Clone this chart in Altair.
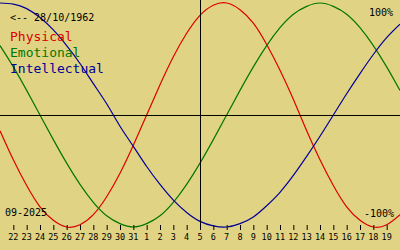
import altair as alt
import pandas as pd

# ---- data ----
day_labels = [22, 23, 24, 25, 26, 27, 28, 29, 30, 31,
              1, 2, 3, 4, 5, 6, 7, 8, 9, 10, 11, 12, 13, 14, 15, 16, 17, 18, 19]
tick_index = list(range(1, 30))
day_index = list(range(31))          # 21 Aug .. 20 Sep
physical = [-0.14, -0.40, -0.63, -0.82, -0.94, -1.00, -0.98, -0.89, -0.73, -0.52,
            -0.27, 0.00, 0.27, 0.52, 0.73, 0.89, 0.98, 1.00, 0.94, 0.82,
            0.63, 0.40, 0.14, -0.14, -0.40, -0.63, -0.82, -0.94, -1.00, -0.98, -0.89]
emotional = [0.62, 0.43, 0.22, 0.00, -0.22, -0.43, -0.62, -0.78, -0.90, -0.97,
             -1.00, -0.97, -0.90, -0.78, -0.62, -0.43, -0.22, 0.00, 0.22, 0.43,
             0.62, 0.78, 0.90, 0.97, 1.00, 0.97, 0.90, 0.78, 0.62, 0.43, 0.22]
intellectual = [1.00, 0.99, 0.95, 0.87, 0.76, 0.62, 0.46, 0.28, 0.10, -0.10,
                -0.28, -0.46, -0.62, -0.76, -0.87, -0.95, -0.99, -1.00, -0.97, -0.91,
                -0.81, -0.69, -0.54, -0.37, -0.19, 0.00, 0.19, 0.37, 0.54, 0.69, 0.81]
series_names = ["Physical", "Emotional", "Intellectual"]
today_index = [15]
birth_text = "<-- 28/10/1962"
month_text = "09-2025"
top_text = "100%"
bottom_text = "-100%"

# ---- styles ----
BG = "#e1d384"
series_colors = ["#dd0000", "#007700", "#000099"]
MONO = "DejaVu Sans Mono"

rows = []
for name, vals in zip(series_names, [physical, emotional, intellectual]):
    for i, v in zip(day_index, vals):
        rows.append({"i": i, "v": v, "s": name})
lines_df = pd.DataFrame(rows)

xs = alt.Scale(domain=[0, 30], nice=False, zero=False)
ys = alt.Scale(domain=[-1.2054, 1.0268], nice=False, zero=False)

lines = alt.Chart(lines_df).mark_line(strokeWidth=1.2, interpolate="natural", clip=True).encode(
    x=alt.X("i:Q", scale=xs, axis=None),
    y=alt.Y("v:Q", scale=ys, axis=None),
    color=alt.Color("s:N", scale=alt.Scale(domain=series_names, range=series_colors), legend=None),
    detail="s:N",
)

hrule = alt.Chart(pd.DataFrame({"v": [0]})).mark_rule(color="black", strokeWidth=1, yOffset=0.5).encode(
    y=alt.Y("v:Q", scale=ys, axis=None), x=alt.value(0), x2=alt.value(400)
)

vrule = alt.Chart(pd.DataFrame({"i": today_index})).mark_rule(color="black", strokeWidth=1, xOffset=0.5).encode(
    x=alt.X("i:Q", scale=xs, axis=None), y=alt.value(0), y2=alt.value(230)
)

ticks_df = pd.DataFrame({"i": tick_index, "lab": [str(d) for d in day_labels]})
ticks = alt.Chart(ticks_df).mark_rule(color="black", strokeWidth=1, xOffset=0.5).encode(
    x=alt.X("i:Q", scale=xs, axis=None), y=alt.value(225), y2=alt.value(230)
)
tick_labels = alt.Chart(ticks_df).mark_text(
    font=MONO, fontSize=8.5, color="black", align="center", baseline="alphabetic"
).encode(x=alt.X("i:Q", scale=xs, axis=None), y=alt.value(240), text="lab:N")


def label(txt, x, y, size, color="black", align="left"):
    return alt.Chart(pd.DataFrame({"t": [txt]})).mark_text(
        font=MONO, fontSize=size, color=color, align=align, baseline="alphabetic"
    ).encode(x=alt.value(x), y=alt.value(y), text="t:N")


texts = [
    label(birth_text, 10, 21, 10),
    label(month_text, 5, 216, 10),
    label(top_text, 393, 16, 10, align="right"),
    label(bottom_text, 394, 217, 10, align="right"),
]
for name, col, yb in zip(series_names, series_colors, [41, 57, 73]):
    texts.append(label(name, 10, yb, 13, color=col))

chart = alt.layer(lines, hrule, vrule, ticks, tick_labels, *texts).properties(
    width=400, height=250, background=BG, padding=0, autosize="none"
).configure_view(stroke=None)

chart.save("out.html", embed_options={"renderer": "svg", "actions": False})
